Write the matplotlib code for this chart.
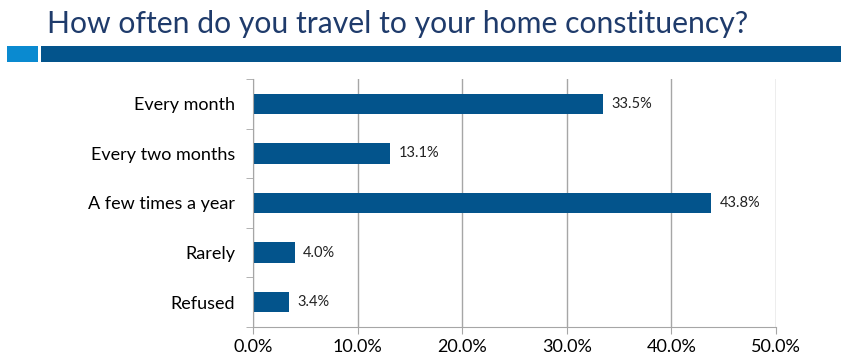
import matplotlib.pyplot as plt
from matplotlib.patches import Rectangle
from matplotlib.ticker import FixedLocator

# -----------------------------
# Survey data
# -----------------------------
categories = ["Every month", "Every two months", "A few times a year", "Rarely", "Refused"]
shares = [33.5, 13.1, 43.8, 4.0, 3.4]
x_ticks = [0, 10, 20, 30, 40, 50]

BAR_COLOR = "#03548C"
GRID_COLOR = "#A6A6A6"
TITLE_COLOR = "#1F3B6B"

plt.rcParams["font.family"] = ["Lato", "DejaVu Sans"]

fig = plt.figure(figsize=(8.41, 3.6), dpi=100)

# header: title and the two colour strips under it
fig.text(47 / 841, 1 - 24 / 360, "How often do you travel to your home constituency?",
         fontsize=21.7, color=TITLE_COLOR, va="center", ha="left")
fig.add_artist(Rectangle((7 / 841, 1 - 62 / 360), 31 / 841, 16 / 360,
                         transform=fig.transFigure, color="#0A8AD0", lw=0))
fig.add_artist(Rectangle((41 / 841, 1 - 62 / 360), 800 / 841, 16 / 360,
                         transform=fig.transFigure, color="#03548C", lw=0))

ax = fig.add_axes([253 / 841, 1 - 327 / 360, 523 / 841, 248 / 360])

y = list(range(len(categories)))
ax.barh(y, shares, height=0.41, color=BAR_COLOR)

for yi, val in zip(y, shares):
    ax.text(val + 0.8, yi, f"{val:.1f}%", va="center", ha="left", fontsize=10.5, color="#222222")

ax.set_xlim(0, 50)
ax.set_ylim(len(categories) - 0.5, -0.5)
ax.set_xticks(x_ticks)
ax.set_xticklabels([f"{t:.1f}%" for t in x_ticks], fontsize=13)
ax.set_yticks(y)
ax.set_yticklabels(categories, fontsize=13)
ax.yaxis.set_minor_locator(FixedLocator([i - 0.5 for i in range(len(categories) + 1)]))

ax.grid(axis="x", color=GRID_COLOR, lw=1)
ax.set_axisbelow(True)
for side in ["top", "right"]:
    ax.spines[side].set_visible(False)
for side in ["left", "bottom"]:
    ax.spines[side].set_color(GRID_COLOR)

ax.tick_params(axis="y", which="major", length=0, pad=13)
ax.tick_params(axis="y", which="minor", length=5, color=GRID_COLOR)
ax.tick_params(axis="x", length=5, color=GRID_COLOR, pad=4)

fig.savefig("out.png", dpi=100)
